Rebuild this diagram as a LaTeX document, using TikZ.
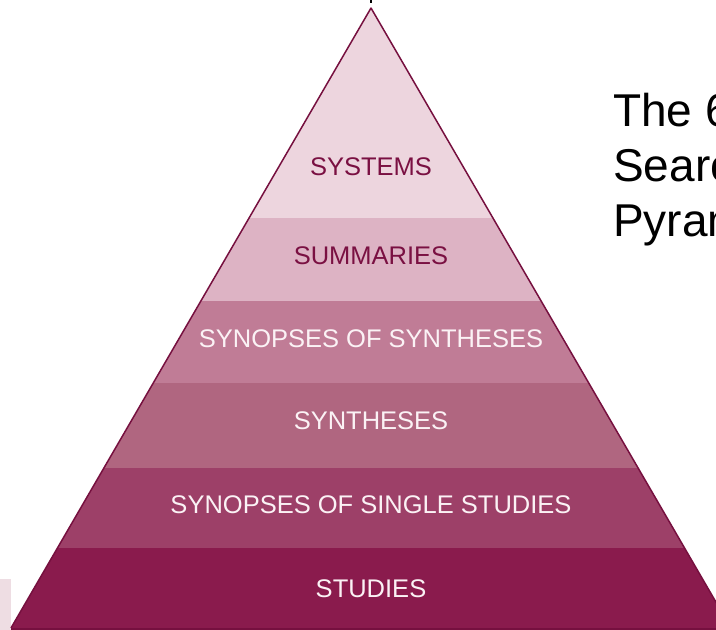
\documentclass[tikz,border=0pt]{standalone}
\usepackage{fontspec}
\setmainfont{Liberation Sans}
\definecolor{bandA}{HTML}{EDD5DE}
\definecolor{bandB}{HTML}{DDB3C4}
\definecolor{bandC}{HTML}{C07C96}
\definecolor{bandD}{HTML}{B06680}
\definecolor{bandE}{HTML}{9D4068}
\definecolor{bandF}{HTML}{8A1B4D}
\definecolor{edgedark}{HTML}{76103F}
\definecolor{labeldark}{HTML}{7A1042}
\definecolor{labellight}{HTML}{FBF2F5}
\definecolor{cornerpink}{HTML}{EEDDE3}

\begin{document}
\begin{tikzpicture}[x=1pt,y=-1pt,
  tier dark/.style={text=labeldark,font=\fontsize{25.5}{30}\selectfont},
  tier light/.style={text=labellight,font=\fontsize{25.5}{30}\selectfont}]
\useasboundingbox (0,0) rectangle (716,630);
\clip (0,0) rectangle (716,630);
\fill[cornerpink] (0,579) rectangle (11,630);
\fill[black] (370.3,0) rectangle (371.7,3);
% bands of the pyramid
\begin{scope}
\clip (371,8) -- (11,628) -- (731,628) -- cycle;
\fill[bandA] (0,0) rectangle (740,218);
\fill[bandB] (0,218) rectangle (740,301);
\fill[bandC] (0,301) rectangle (740,383);
\fill[bandD] (0,383) rectangle (740,468);
\fill[bandE] (0,468) rectangle (740,548);
\fill[bandF] (0,548) rectangle (740,630);
\end{scope}
\draw[edgedark,line width=1.5pt,line join=round] (11,628) -- (371,8) -- (731,628);
\draw[edgedark,line width=2pt] (11,629) -- (731,629);
% labels
\node[tier dark] (systems) at (371,167) {SYSTEMS};
\node[tier dark] (summaries) at (371,256) {SUMMARIES};
\node[tier light] (synsyn) at (371,339) {SYNOPSES OF SYNTHESES};
\node[tier light] (syntheses) at (371,421) {SYNTHESES};
\node[tier light] (synsingle) at (371,505) {SYNOPSES OF SINGLE STUDIES};
\node[tier light] (studies) at (371,589) {STUDIES};
\node[anchor=north west,inner sep=0pt,align=left,font=\fontsize{46}{55}\selectfont] (title) at (613,93) {The 6S\\Search\\Pyramid};
\end{tikzpicture}
\end{document}
